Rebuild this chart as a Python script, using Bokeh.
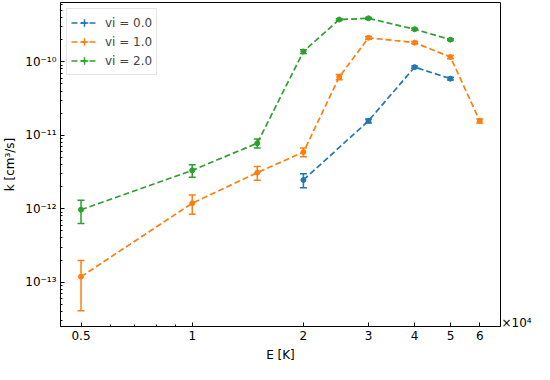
import math
from bokeh.plotting import figure
from bokeh.models import (FixedTicker, CustomJSTickFormatter, ColumnDataSource,
                          Legend, LegendItem, LogAxis)
from bokeh.embed import file_html
from bokeh.resources import INLINE

# ---- data ----
E_vi0 = [20000, 30000, 40000, 50000]
k_vi0 = [2.46e-12, 1.57e-11, 8.45e-11, 5.89e-11]
err_vi0 = [5.3e-13, 1.0e-12, 3.0e-12, 2.5e-12]

E_vi1 = [5000, 10000, 15000, 20000, 25000, 30000, 40000, 50000, 60000]
k_vi1 = [1.19e-13, 1.19e-12, 3.1e-12, 5.9e-12, 6.2e-11, 2.12e-10, 1.82e-10, 1.16e-10, 1.57e-11]
err_vi1 = [7.8e-14, 3.5e-13, 6.5e-13, 8.0e-13, 5.0e-12, 9.0e-12, 6.0e-12, 6.0e-12, 1.0e-12]

E_vi2 = [5000, 10000, 15000, 20000, 25000, 30000, 40000, 50000]
k_vi2 = [9.7e-13, 3.33e-12, 7.8e-12, 1.38e-10, 3.75e-10, 3.9e-10, 2.77e-10, 2.0e-10]
err_vi2 = [3.4e-13, 6.5e-13, 1.1e-12, 8.0e-12, 1.0e-11, 1.0e-11, 8.0e-12, 6.0e-12]

series_labels = ["vi = 0.0", "vi = 1.0", "vi = 2.0"]
series_colors = ["#1f77b4", "#ff7f0e", "#2ca02c"]

x_tick_values = [5000, 10000, 20000, 30000, 40000, 50000, 60000]
x_tick_labels = ["0.5", "1", "2", "3", "4", "5", "6"]
x_minor_values = [6000, 7000, 8000, 9000]
y_tick_values = [1e-13, 1e-12, 1e-11, 1e-10]
y_tick_labels = ["10\u207b\u00b9\u00b3", "10\u207b\u00b9\u00b2", "10\u207b\u00b9\u00b9", "10\u207b\u00b9\u2070"]
y_minor_values = [m * 10.0 ** d for d in (-14, -13, -12, -11, -10) for m in range(2, 10)]
x_multiplier_label = "\u00d710\u2074"
x_multiplier_anchor = [2.75e-14]   # height (in k units) where the offset text sits

FONT = "DejaVu Sans"
NAN = float("nan")

p = figure(width=534, height=364, x_axis_type="log", y_axis_type="log",
           x_range=(4400, 68300), y_range=(2.5e-14, 6.4e-10),
           output_backend="svg", toolbar_location=None,
           x_axis_label="E [K]", y_axis_label="k [cm\u00b3/s]")
p.min_border_left = 54
p.min_border_right = 30
p.min_border_top = 2
p.min_border_bottom = 38
p.outline_line_color = "black"
p.outline_line_width = 1
p.grid.visible = False
p.background_fill_color = "white"

fmt_js = """
let best = 0, bd = Infinity;
for (let i = 0; i < vals.length; i++) {
  const d = Math.abs(Math.log(tick) - Math.log(vals[i]));
  if (d < bd) { bd = d; best = i; }
}
return labs[best];
"""
p.xaxis.ticker = FixedTicker(ticks=x_tick_values, minor_ticks=x_minor_values)
p.xaxis.formatter = CustomJSTickFormatter(args=dict(vals=x_tick_values, labs=x_tick_labels), code=fmt_js)
p.yaxis.ticker = FixedTicker(ticks=y_tick_values, minor_ticks=y_minor_values)
p.yaxis.formatter = CustomJSTickFormatter(args=dict(vals=y_tick_values, labs=y_tick_labels), code=fmt_js)

for ax in (p.xaxis[0], p.yaxis[0]):
    ax.major_tick_in = 4
    ax.major_tick_out = 0
    ax.minor_tick_in = 2
    ax.minor_tick_out = 0
    ax.axis_line_color = "black"
    ax.major_tick_line_color = "black"
    ax.minor_tick_line_color = "black"
    ax.major_label_text_font = FONT
    ax.major_label_text_font_size = "12px"
    ax.major_label_text_color = "black"
    ax.axis_label_text_font = FONT
    ax.axis_label_text_font_size = "12px"
    ax.axis_label_text_font_style = "normal"
    ax.axis_label_text_color = "black"
    ax.major_label_standoff = 4
    ax.axis_label_standoff = 5

# offset text "x10^4" shown as a single label on an otherwise invisible right axis
rax = LogAxis(ticker=FixedTicker(ticks=x_multiplier_anchor, minor_ticks=[]),
              formatter=CustomJSTickFormatter(args=dict(lab=x_multiplier_label), code="return lab;"))
rax.axis_line_color = None
rax.major_tick_line_color = None
rax.minor_tick_line_color = None
rax.major_tick_in = 0
rax.major_tick_out = 0
rax.minor_tick_in = 0
rax.minor_tick_out = 0
rax.major_label_standoff = 1
rax.major_label_text_font = FONT
rax.major_label_text_font_size = "12px"
rax.major_label_text_color = "black"
p.add_layout(rax, "right")

items = []
for xs, ks, es, lab, col in zip([E_vi0, E_vi1, E_vi2], [k_vi0, k_vi1, k_vi2],
                                [err_vi0, err_vi1, err_vi2], series_labels, series_colors):
    lo = [k - e for k, e in zip(ks, es)]
    hi = [k + e for k, e in zip(ks, es)]
    src = ColumnDataSource(dict(x=xs, k=ks, lo=lo, hi=hi))
    lr = p.line("x", "k", source=src, line_color=col, line_width=1.7, line_dash="6 3")
    p.segment(x0="x", y0="lo", x1="x", y1="hi", source=src, line_color=col, line_width=1.5)
    p.scatter("x", "lo", source=src, marker="dash", size=7, line_color=col, line_width=1.5)
    p.scatter("x", "hi", source=src, marker="dash", size=7, line_color=col, line_width=1.5)
    p.scatter("x", "k", source=src, marker="circle", size=5, fill_color=col, line_color=col)
    # legend-only glyphs (no drawable data): vertical error bar + small dot
    cr = p.scatter(x=[NAN], y=[NAN], marker="cross", size=8, line_color=col, line_width=1.5)
    dr = p.scatter(x=[NAN], y=[NAN], marker="dot", size=8, line_color=col, fill_color=col,
                   line_width=3)
    items.append(LegendItem(label=lab, renderers=[lr, cr, dr]))

legend = Legend(items=items, location="top_left")
legend.margin = 6
legend.padding = 4
legend.spacing = 0
legend.glyph_height = 19
legend.glyph_width = 26
legend.label_height = 19
legend.label_standoff = 8
legend.label_text_font = FONT
legend.label_text_font_size = "12px"
legend.border_line_color = "#cccccc"
legend.border_line_width = 1
legend.background_fill_alpha = 0.85
p.add_layout(legend)

open("out.html", "w").write(file_html(p, INLINE))
